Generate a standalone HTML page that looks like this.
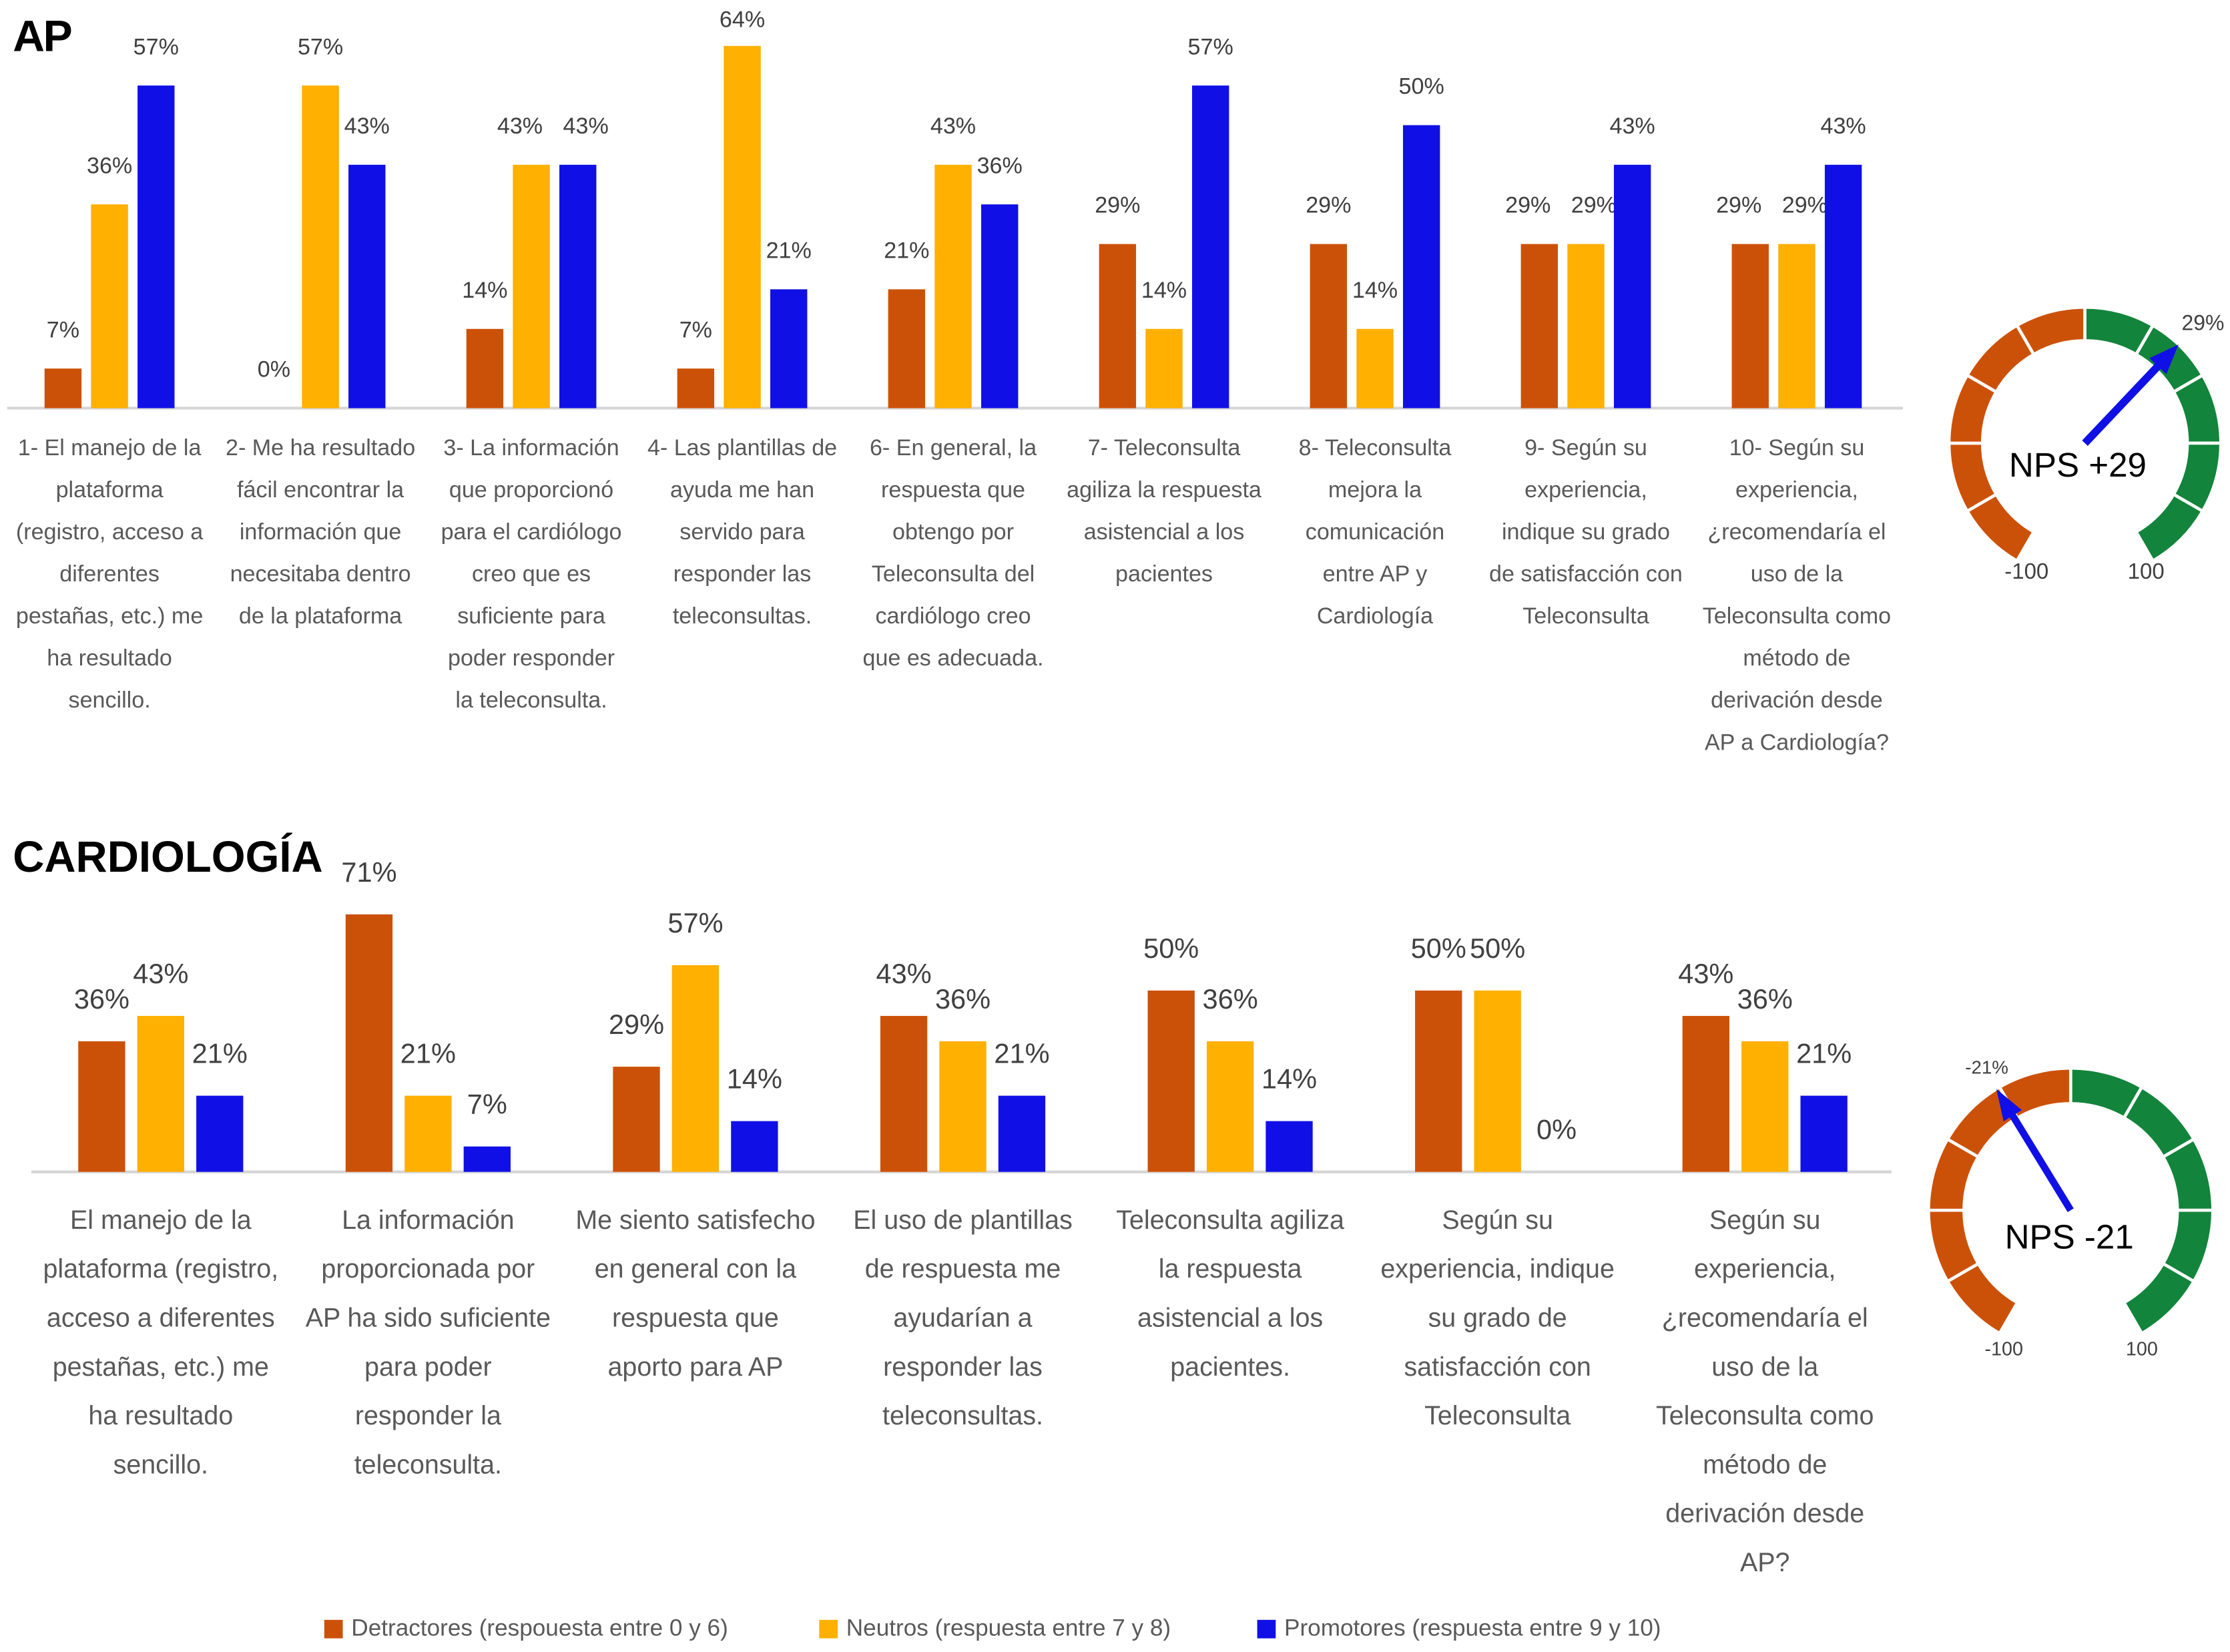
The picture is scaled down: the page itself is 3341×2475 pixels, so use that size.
<!DOCTYPE html>
<html><head><meta charset="utf-8"><style>
html,body{margin:0;padding:0;background:#fff;}
svg{display:block;}
text{font-family:"Liberation Sans",sans-serif;}
</style></head><body>
<svg id="c" width="3341" height="2475" viewBox="0 0 1568 1161.6" xmlns="http://www.w3.org/2000/svg">
<rect width="1568" height="1161.6" fill="#fff"/>
<text x="9" y="36" font-size="31" font-weight="bold" fill="#000" textLength="42">AP</text>
<text x="9" y="613" font-size="31" font-weight="bold" fill="#000" textLength="218" lengthAdjust="spacingAndGlyphs">CARDIOLOGÍA</text>
<line x1="5" y1="287" x2="1338" y2="287" stroke="#d6d6d6" stroke-width="2"/>
<line x1="22" y1="824" x2="1330" y2="824" stroke="#d6d6d6" stroke-width="2"/>
<g>
<rect x="228" y="1139" width="13" height="13" fill="#CC5108"/>
<text x="247" y="1150" font-size="16.5" fill="#595959">Detractores (respouesta entre 0 y 6)</text>
<rect x="576" y="1139" width="13" height="13" fill="#FFB000"/>
<text x="595" y="1150" font-size="16.5" fill="#595959">Neutros (respuesta entre 7 y 8)</text>
<rect x="884" y="1139" width="13" height="13" fill="#1010E6"/>
<text x="903" y="1150" font-size="16.5" fill="#595959">Promotores (respuesta entre 9 y 10)</text>
</g>
</svg>
<script>
const apDet=[7,0,14,7,21,29,29,29,29];
const apNeu=[36,57,43,64,43,14,14,29,29];
const apPro=[57,43,43,21,36,57,50,43,43];
const apLabels=[
["1- El manejo de la","plataforma","(registro, acceso a","diferentes","pestañas, etc.) me","ha resultado","sencillo."],
["2- Me ha resultado","fácil encontrar la","información que","necesitaba dentro","de la plataforma"],
["3- La información","que proporcionó","para el cardiólogo","creo que es","suficiente para","poder responder","la teleconsulta."],
["4- Las plantillas de","ayuda me han","servido para","responder las","teleconsultas."],
["6- En general, la","respuesta que","obtengo por","Teleconsulta del","cardiólogo creo","que es adecuada."],
["7- Teleconsulta","agiliza la respuesta","asistencial a los","pacientes"],
["8- Teleconsulta","mejora la","comunicación","entre AP y","Cardiología"],
["9- Según su","experiencia,","indique su grado","de satisfacción con","Teleconsulta"],
["10- Según su","experiencia,","¿recomendaría el","uso de la","Teleconsulta como","método de","derivación desde","AP a Cardiología?"]];
const cdDet=[36,71,29,43,50,50,43];
const cdNeu=[43,21,57,36,36,50,36];
const cdPro=[21,7,14,21,14,0,21];
const cdLabels=[
["El manejo de la","plataforma (registro,","acceso a diferentes","pestañas, etc.) me","ha resultado","sencillo."],
["La información","proporcionada por","AP ha sido suficiente","para poder","responder la","teleconsulta."],
["Me siento satisfecho","en general con la","respuesta que","aporto para AP"],
["El uso de plantillas","de respuesta me","ayudarían a","responder las","teleconsultas."],
["Teleconsulta agiliza","la respuesta","asistencial a los","pacientes."],
["Según su","experiencia, indique","su grado de","satisfacción con","Teleconsulta"],
["Según su","experiencia,","¿recomendaría el","uso de la","Teleconsulta como","método de","derivación desde","AP?"]];
const apNps=29, cdNps=-21;

const NS="http://www.w3.org/2000/svg";
const svg=document.getElementById('c');
function mk(tag,attrs){const e=document.createElementNS(NS,tag);for(const k in attrs)e.setAttribute(k,attrs[k]);svg.appendChild(e);return e;}
const colors=["#CC5108","#FFB000","#1010E6"];
const sNames=["detractores","neutros","promotores"];

function chart(prefix,series,labels,cfg){
  const yOf=v=>cfg.base-v*cfg.k;
  labels.forEach((lines,i)=>{
    const cx=cfg.x0+i*cfg.step;
    const shifts=[0,0,0];
    for(let j=0;j<2;j++){
      if(Math.abs(yOf(series[j][i])-yOf(series[j+1][i]))<14){shifts[j]-=cfg.spread;shifts[j+1]+=cfg.spread*0.7;}
    }
    series.forEach((s,j)=>{
      const v=s[i];
      const bx=cx+(j-1)*cfg.bstep-cfg.bw/2;
      const r=mk('rect',{x:bx,y:yOf(v),width:cfg.bw,height:cfg.base-yOf(v),fill:colors[j]});
      
      
      const ty=Math.max(cfg.minY,yOf(v)-cfg.lo);
      const t=mk('text',{x:cx+(j-1)*cfg.bstep+shifts[j],y:ty,'font-size':cfg.fs,fill:'#404040','text-anchor':'middle'});
      t.textContent=v+'%';
      
      
    });
    lines.forEach((ln,l)=>{
      const t=mk('text',{x:cx,y:cfg.ly+l*cfg.lsp,'font-size':cfg.lfs,fill:'#595959','text-anchor':'middle'});
      t.textContent=ln;
      
      
    });
  });
}
chart('ap',[apDet,apNeu,apPro],apLabels,{x0:77,step:148.3,bstep:32.7,bw:26,base:287,k:3.98,lo:22,fs:16,ly:320,lsp:29.6,lfs:16,spread:8,minY:19});
chart('cardio',[cdDet,cdNeu,cdPro],cdLabels,{x0:113,step:188,bstep:41.5,bw:33,base:824,k:2.55,lo:23,fs:19.5,ly:864,lsp:34.4,lfs:18.5,spread:0,minY:0});

function pt(cx,cy,r,deg){const a=deg*Math.PI/180;return [cx+r*Math.sin(a),cy-r*Math.cos(a)];}
function gauge(prefix,cx,cy,ro,ri,val,nw){
  for(let s=0;s<10;s++){
    const a0=-150+s*30,a1=a0+30;
    const p1=pt(cx,cy,ro,a0),p2=pt(cx,cy,ro,a1),p3=pt(cx,cy,ri,a1),p4=pt(cx,cy,ri,a0);
    const d=`M${p1} A${ro},${ro} 0 0 1 ${p2} L${p3} A${ri},${ri} 0 0 0 ${p4} Z`;
    const p=mk('path',{d:d,fill:s<5?'#CC5108':'#13843B',stroke:'#fff','stroke-width':2.2});
    
    
  }
  const ang=val/100*150;
  const e=pt(cx,cy,ro*0.8,ang);
  const ln=mk('line',{x1:cx,y1:cy,x2:e[0],y2:e[1],stroke:'#1010E6','stroke-width':nw});
  
  
  const tip=pt(cx,cy,ro,ang),b=pt(cx,cy,ro*0.78,ang);
  const a=(ang+90)*Math.PI/180,w=nw*1.5;
  const l1=[b[0]+w*Math.sin(a),b[1]-w*Math.cos(a)],l2=[b[0]-w*Math.sin(a),b[1]+w*Math.cos(a)];
  const h=mk('polygon',{points:`${tip} ${l1} ${l2}`,fill:'#1010E6'});
  
  
}
gauge('ap',1466,311.6,95.6,72,apNps,5.5);
gauge('cardio',1456,851,100,75,cdNps,5);

function txt(name,x,y,fs,fill,s){const t=mk('text',{x:x,y:y,'font-size':fs,fill:fill,'text-anchor':'middle'});t.textContent=s;}
txt('ap-nps-value',1461,335,24,'#000','NPS +29');
txt('ap-gauge-pointer-label',1549,232,15,'#404040',apNps+'%');
txt('ap-gauge-min',1425,407,15.5,'#404040','-100');
txt('ap-gauge-max',1509,407,15.5,'#404040','100');
txt('cardio-nps-value',1455,878,24,'#000','NPS  -21');
txt('cardio-gauge-pointer-label',1397,755,13,'#404040',cdNps+'%');
txt('cardio-gauge-min',1409,953,13.5,'#404040','-100');
txt('cardio-gauge-max',1506,953,13.5,'#404040','100');
</script>
</body></html>
